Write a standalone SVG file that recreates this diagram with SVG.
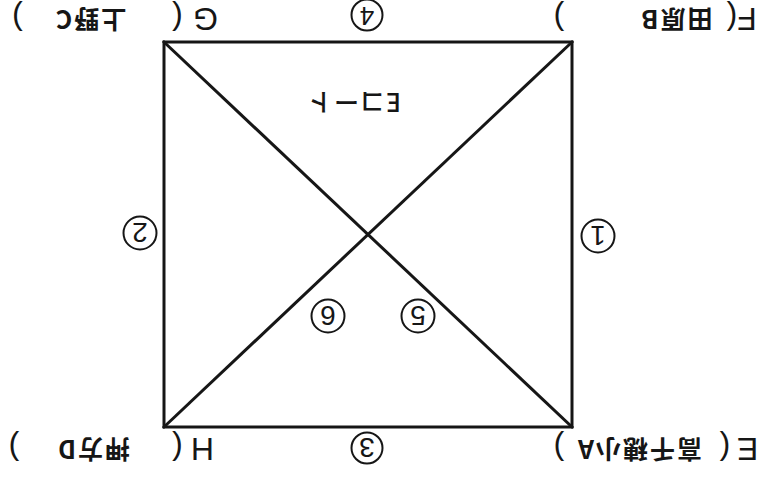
<svg xmlns="http://www.w3.org/2000/svg" width="766" height="477" viewBox="0 0 766 477">
<style>
.ln{stroke:#161616;stroke-width:3;fill:none;stroke-linecap:square}
.cir{stroke:#161616;stroke-width:2;fill:none}
.num{font-family:"Liberation Sans",Arial,sans-serif;font-size:28px;fill:#161616;text-anchor:middle}
.lat{font-family:"Liberation Sans",Arial,sans-serif;font-size:32px;fill:#161616;text-anchor:middle}
.par{font-family:"Liberation Sans",Arial,sans-serif;font-size:32px;fill:#161616;text-anchor:middle}
.jp{font-family:"Noto Sans CJK JP","Noto Sans",sans-serif;font-size:25px;font-weight:bold;fill:#161616;text-anchor:middle;letter-spacing:2px}
.mid{font-family:"Noto Sans CJK JP","Noto Sans",sans-serif;font-size:25px;font-weight:500;fill:#161616;text-anchor:middle;letter-spacing:1px}
</style>
<rect width="766" height="477" fill="#ffffff"/>
<g transform="rotate(180 383 238.5)">
  <g id="connectors">
    <rect class="ln" x="194" y="50" width="408" height="385"/>
    <line class="ln" x1="194" y1="50" x2="602" y2="435"/>
    <line class="ln" x1="602" y1="50" x2="194" y2="435"/>
  </g>
  <g id="nodeE">
    <text class="lat" x="18.5" y="39.5">E</text>
    <text class="par" x="41" y="39">(</text>
    <text class="jp" x="127" y="37">高千穂小A</text>
    <text class="par" x="207" y="39">)</text>
  </g>
  <g id="nodeH">
    <text class="lat" x="563.5" y="39.5">H</text>
    <text class="par" x="588.5" y="39">(</text>
    <text class="jp" x="673" y="37">押方D</text>
    <text class="par" x="752" y="39">)</text>
  </g>
  <g id="nodeF">
    <text class="lat" x="19" y="469">F</text>
    <text class="par" x="34" y="469">(</text>
    <text class="jp" x="90" y="467">田原B</text>
    <text class="par" x="207" y="469">)</text>
  </g>
  <g id="nodeG">
    <text class="lat" x="560.5" y="469">G</text>
    <text class="par" x="588.5" y="469">(</text>
    <text class="jp" x="676" y="467">上野C</text>
    <text class="par" x="748.5" y="469">)</text>
  </g>
  <g id="court">
    <text class="mid" x="412" y="384">Eコート</text>
  </g>
  <g id="n1"><circle class="cir" cx="168" cy="241" r="16.5"/><text class="num" x="168" y="251">1</text></g>
  <g id="n2"><circle class="cir" cx="626" cy="244" r="16.5"/><text class="num" x="626" y="254">2</text></g>
  <g id="n3"><circle class="cir" cx="399" cy="29" r="15.5"/><text class="num" x="399" y="39">3</text></g>
  <g id="n4"><circle class="cir" cx="399" cy="462" r="15.5"/><text class="num" x="399" y="470" style="font-size:26px">4</text></g>
  <g id="n5"><circle class="cir" cx="348" cy="161" r="16.5"/><text class="num" x="348" y="171">5</text></g>
  <g id="n6"><circle class="cir" cx="438" cy="161" r="16.5"/><text class="num" x="438" y="171">6</text></g>
</g>
</svg>
